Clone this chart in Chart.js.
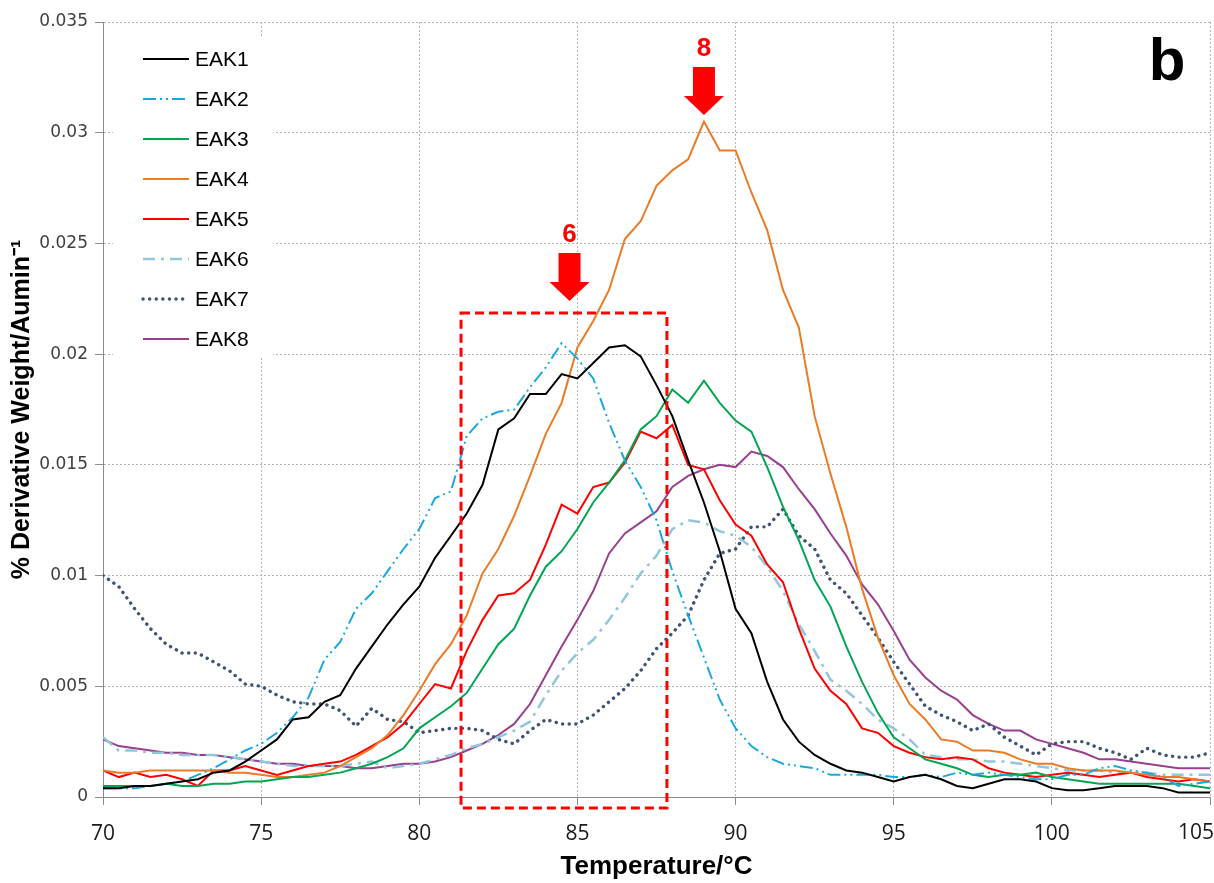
<!DOCTYPE html>
<html>
<head>
<meta charset="utf-8">
<script src="https://cdn.jsdelivr.net/npm/chart.js@4.4.0/dist/chart.umd.min.js"></script>
<style>
  html, body { margin: 0; padding: 0; background: #fff; }
  #chart { display: block; }
</style>
</head>
<body>
<canvas id="chart" width="1214" height="883"></canvas>
<script>
// Temperatures (°C)
const temps = [70, 70.5, 71, 71.5, 72, 72.5, 73, 73.5, 74, 74.5, 75, 75.5, 76, 76.5, 77, 77.5,
    78, 78.5, 79, 79.5, 80, 80.5, 81, 81.5, 82, 82.5, 83, 83.5, 84, 84.5, 85, 85.5, 86, 86.5,
    87, 87.5, 88, 88.5, 89, 89.5, 90, 90.5, 91, 91.5, 92, 92.5, 93, 93.5, 94, 94.5, 95, 95.5,
    96, 96.5, 97, 97.5, 98, 98.5, 99, 99.5, 100, 100.5, 101, 101.5, 102, 102.5, 103, 103.5,
    104, 104.5, 105];

const seriesNames = ['EAK1', 'EAK2', 'EAK3', 'EAK4', 'EAK5', 'EAK6', 'EAK7', 'EAK8'];

const eak1 = [0.0004, 0.0004, 0.0005, 0.0005, 0.0006, 0.0007, 0.0008, 0.0011, 0.0012, 0.0016,
    0.0021, 0.0026, 0.0035, 0.0036, 0.0043, 0.0046, 0.0058, 0.0068, 0.0078, 0.0087,
    0.0095, 0.0108, 0.0118, 0.0128, 0.0141, 0.0166, 0.0171, 0.0182, 0.0182, 0.0191,
    0.0189, 0.0196, 0.0203, 0.0204, 0.0199, 0.0186, 0.0172, 0.0152, 0.0133, 0.0111,
    0.0085, 0.0074, 0.0052, 0.0035, 0.0025, 0.0019, 0.0015, 0.0012, 0.0011, 0.0009,
    0.0007, 0.0009, 0.001, 0.0008, 0.0005, 0.0004, 0.0006, 0.0008, 0.0008, 0.0007,
    0.0004, 0.0003, 0.0003, 0.0004, 0.0005, 0.0005, 0.0005, 0.0004, 0.0002, 0.0002, 0.0002];

const eak2 = [0.0004, 0.0004, 0.0004, 0.0005, 0.0006, 0.0007, 0.001, 0.0013, 0.0017, 0.0021,
    0.0024, 0.0029, 0.0036, 0.0045, 0.0062, 0.007, 0.0085, 0.0092, 0.0102, 0.0112,
    0.0121, 0.0135, 0.0138, 0.0163, 0.0171, 0.0174, 0.0175, 0.0185, 0.0194, 0.0205,
    0.0198, 0.0189, 0.0169, 0.0152, 0.014, 0.0125, 0.0102, 0.0082, 0.0063, 0.0044,
    0.0031, 0.0023, 0.0018, 0.0015, 0.0014, 0.0013, 0.001, 0.001, 0.001, 0.001,
    0.0009, 0.0009, 0.001, 0.0009, 0.0011, 0.001, 0.0011, 0.001, 0.0009, 0.0008,
    0.0008, 0.001, 0.001, 0.0013, 0.0014, 0.0012, 0.0011, 0.0009, 0.0005, 0.0006, 0.0007];

const eak3 = [0.0005, 0.0005, 0.0005, 0.0005, 0.0006, 0.0005, 0.0005, 0.0006, 0.0006, 0.0007,
    0.0007, 0.0008, 0.0009, 0.0009, 0.001, 0.0011, 0.0013, 0.0015, 0.0018, 0.0022,
    0.0031, 0.0036, 0.0041, 0.0047, 0.0058, 0.0069, 0.0076, 0.0091, 0.0104, 0.0111,
    0.0121, 0.0133, 0.0142, 0.0152, 0.0166, 0.0172, 0.0184, 0.0178, 0.0188, 0.0178,
    0.017, 0.0165, 0.0149, 0.0131, 0.0116, 0.0098, 0.0086, 0.0068, 0.0052, 0.0038,
    0.0027, 0.0022, 0.0017, 0.0015, 0.0013, 0.001, 0.0009, 0.001, 0.001, 0.0011,
    0.0009, 0.0008, 0.0007, 0.0006, 0.0006, 0.0006, 0.0006, 0.0006, 0.0006, 0.0005, 0.0004];

const eak4 = [0.0012, 0.0011, 0.0011, 0.0012, 0.0012, 0.0012, 0.0012, 0.0012, 0.0011, 0.0011,
    0.001, 0.0009, 0.0009, 0.001, 0.0011, 0.0014, 0.0018, 0.0022, 0.0028, 0.0037,
    0.0048, 0.006, 0.0069, 0.0082, 0.0101, 0.0112, 0.0127, 0.0145, 0.0164, 0.0178,
    0.0203, 0.0215, 0.0229, 0.0252, 0.026, 0.0276, 0.0283, 0.0288, 0.0305, 0.0292,
    0.0292, 0.0273, 0.0256, 0.0229, 0.0212, 0.0172, 0.0146, 0.0122, 0.0094, 0.0072,
    0.0055, 0.0042, 0.0035, 0.0026, 0.0025, 0.0021, 0.0021, 0.002, 0.0017, 0.0015,
    0.0015, 0.0013, 0.0012, 0.0012, 0.0012, 0.0011, 0.001, 0.0009, 0.0009, 0.0008, 0.0007];

const eak5 = [0.0012, 0.0009, 0.0011, 0.0009, 0.001, 0.0008, 0.0005, 0.0012, 0.0012, 0.0014,
    0.0012, 0.001, 0.0012, 0.0014, 0.0015, 0.0016, 0.0019, 0.0023, 0.0027, 0.0033,
    0.0042, 0.0051, 0.0049, 0.0066, 0.008, 0.0091, 0.0092, 0.0098, 0.0114, 0.0132,
    0.0128, 0.014, 0.0142, 0.0151, 0.0165, 0.0162, 0.0168, 0.015, 0.0148, 0.0134,
    0.0123, 0.0118, 0.0105, 0.0097, 0.0076, 0.0058, 0.0048, 0.0042, 0.0031, 0.0029,
    0.0023, 0.002, 0.0018, 0.0017, 0.0018, 0.0017, 0.0013, 0.0011, 0.001, 0.0009,
    0.001, 0.0011, 0.001, 0.0009, 0.001, 0.0011, 0.0009, 0.0008, 0.0007, 0.0008, 0.0007];

const eak6 = [0.0027, 0.0021, 0.0021, 0.002, 0.002, 0.0019, 0.0019, 0.0019, 0.0018, 0.0017,
    0.0016, 0.0015, 0.0014, 0.0014, 0.0014, 0.0014, 0.0015, 0.0016, 0.0013, 0.0014,
    0.0015, 0.0017, 0.0019, 0.0022, 0.0024, 0.0027, 0.003, 0.0034, 0.0046, 0.0057,
    0.0065, 0.0071, 0.008, 0.009, 0.0101, 0.0109, 0.0121, 0.0125, 0.0124, 0.012,
    0.0118, 0.0113, 0.0104, 0.0093, 0.0078, 0.0066, 0.0053, 0.0048, 0.0042, 0.0035,
    0.0031, 0.0026, 0.0019, 0.0018, 0.0017, 0.0017, 0.0016, 0.0016, 0.0015, 0.0014,
    0.0013, 0.0012, 0.0012, 0.0012, 0.0011, 0.0011, 0.0011, 0.001, 0.001, 0.001, 0.001];

const eak7 = [0.01, 0.0095, 0.0085, 0.0076, 0.0069, 0.0065, 0.0065, 0.0061, 0.0057, 0.0051,
    0.005, 0.0046, 0.0043, 0.0042, 0.0042, 0.0039, 0.0032, 0.004, 0.0035, 0.0034,
    0.0029, 0.003, 0.0031, 0.0031, 0.003, 0.0026, 0.0024, 0.003, 0.0035, 0.0033,
    0.0033, 0.0037, 0.0043, 0.0049, 0.0057, 0.0067, 0.0074, 0.0082, 0.0098, 0.011,
    0.0112, 0.0122, 0.0122, 0.013, 0.0118, 0.0112, 0.0098, 0.0092, 0.0082, 0.0072,
    0.0061, 0.0051, 0.0041, 0.0037, 0.0034, 0.003, 0.0033, 0.0027, 0.0023, 0.0019,
    0.0024, 0.0025, 0.0025, 0.0022, 0.002, 0.0017, 0.0022, 0.0019, 0.0018, 0.0018, 0.002];

const eak8 = [0.0026, 0.0023, 0.0022, 0.0021, 0.002, 0.002, 0.0019, 0.0019, 0.0018, 0.0017,
    0.0016, 0.0015, 0.0015, 0.0014, 0.0014, 0.0014, 0.0013, 0.0013, 0.0014, 0.0015,
    0.0015, 0.0016, 0.0018, 0.0021, 0.0024, 0.0028, 0.0033, 0.0042, 0.0055, 0.0068,
    0.008, 0.0093, 0.011, 0.0119, 0.0124, 0.0129, 0.014, 0.0145, 0.0148, 0.015,
    0.0149, 0.0156, 0.0154, 0.0149, 0.0139, 0.013, 0.0119, 0.0109, 0.0096, 0.0087,
    0.0075, 0.0062, 0.0054, 0.0048, 0.0044, 0.0037, 0.0033, 0.003, 0.003, 0.0026,
    0.0024, 0.0022, 0.002, 0.0017, 0.0017, 0.0016, 0.0015, 0.0014, 0.0013, 0.0013, 0.0013];

// Axis ticks
const xTickValues = [70, 75, 80, 85, 90, 95, 100, 105];
const xTickLabels = ['70', '75', '80', '85', '90', '95', '100', '105'];
const yTickValues = [0, 0.005, 0.01, 0.015, 0.02, 0.025, 0.03, 0.035];
const yTickLabels = ['0', '0.005', '0.01', '0.015', '0.02', '0.025', '0.03', '0.035'];

// Highlighted region and peak markers
const boxRange = { x0: 81.32, x1: 87.83, yTop: 0.02186 };
const peakMarks = [
    { label: '6', x: 84.75, y: 0.0224 },
    { label: '8', x: 89.0, y: 0.0308 }
];

const allSeries = [eak1, eak2, eak3, eak4, eak5, eak6, eak7, eak8];
const colors = ['#000000', '#1BA8DF', '#00A651', '#EB7B25', '#FF0000', '#93C6DA', '#3F5375', '#993F8E'];
const dashes = [[], [13, 4, 2, 4, 2, 4], [], [], [], [12, 6, 3, 6], [0.1, 6.5], []];
const widths = [2, 2, 2, 2, 2, 2.5, 3.4, 2];

const tickFont = '21px "Open Sans", sans-serif';

const datasets = allSeries.map((vals, i) => ({
    label: seriesNames[i],
    data: vals.map((v, j) => ({ x: temps[j], y: v })),
    borderColor: colors[i],
    backgroundColor: colors[i],
    borderWidth: widths[i],
    borderDash: dashes[i],
    borderCapStyle: i === 6 ? 'round' : 'butt',
    pointRadius: 0,
    tension: 0,
    fill: false
}));

const overlayPlugin = {
    id: 'overlay',
    afterDatasetsDraw(chart) {
        const ctx = chart.ctx;
        const xs = chart.scales.x;
        const ys = chart.scales.y;
        const area = chart.chartArea;

        // dashed red box
        const bx0 = xs.getPixelForValue(boxRange.x0);
        const bx1 = xs.getPixelForValue(boxRange.x1);
        const by0 = ys.getPixelForValue(boxRange.yTop);
        const by1 = ys.getPixelForValue(0) + 11;
        ctx.save();
        ctx.strokeStyle = '#FF0000';
        ctx.lineWidth = 3;
        ctx.setLineDash([9, 5]);
        ctx.strokeRect(bx0, by0, bx1 - bx0, by1 - by0);
        ctx.restore();

        // red arrows with labels
        peakMarks.forEach(m => {
            const cx = xs.getPixelForValue(m.x);
            const tip = ys.getPixelForValue(m.y);
            ctx.save();
            ctx.fillStyle = '#FF0000';
            ctx.beginPath();
            ctx.moveTo(cx - 11, tip - 48);
            ctx.lineTo(cx + 11, tip - 48);
            ctx.lineTo(cx + 11, tip - 19);
            ctx.lineTo(cx + 20, tip - 19);
            ctx.lineTo(cx, tip);
            ctx.lineTo(cx - 20, tip - 19);
            ctx.lineTo(cx - 11, tip - 19);
            ctx.closePath();
            ctx.fill();
            ctx.font = 'bold 26px "Liberation Sans", Arial, sans-serif';
            ctx.textAlign = 'center';
            ctx.textBaseline = 'middle';
            ctx.fillText(m.label, cx, tip - 66);
            ctx.restore();
        });

        // legend inside the plot
        const lx = area.left + 10;
        const ly = area.top + 16;
        ctx.save();
        ctx.fillStyle = '#ffffff';
        ctx.fillRect(lx, ly, 160, 319);
        chart.data.datasets.forEach((ds, i) => {
            const rowY = ly + 21 + i * 40;
            ctx.save();
            ctx.strokeStyle = ds.borderColor;
            ctx.lineWidth = ds.borderWidth;
            ctx.lineCap = ds.borderCapStyle;
            ctx.setLineDash(ds.borderDash);
            ctx.beginPath();
            ctx.moveTo(lx + 30, rowY);
            ctx.lineTo(lx + 76, rowY);
            ctx.stroke();
            ctx.restore();
            ctx.fillStyle = '#000000';
            ctx.font = '21px "Liberation Sans", Arial, sans-serif';
            ctx.textAlign = 'left';
            ctx.textBaseline = 'middle';
            ctx.fillText(ds.label, lx + 82, rowY + 1);
        });
        ctx.restore();

        // panel letter
        ctx.save();
        ctx.fillStyle = '#000000';
        ctx.font = 'bold 60px "Liberation Sans", Arial, sans-serif';
        ctx.textAlign = 'center';
        ctx.textBaseline = 'alphabetic';
        ctx.fillText('b', area.right - 43, area.top + 58);
        ctx.restore();
    },
    afterDraw(chart) {
        // last x tick label is pulled inside the canvas, as in the original
        const ctx = chart.ctx;
        const xs = chart.scales.x;
        const last = xTickValues.length - 1;
        ctx.save();
        ctx.fillStyle = '#1a1a1a';
        ctx.font = tickFont;
        ctx.textAlign = 'right';
        ctx.textBaseline = 'middle';
        ctx.fillText(xTickLabels[last], xs.getPixelForValue(xTickValues[last]) + 4, xs.top + 36);
        ctx.restore();
    }
};

new Chart(document.getElementById('chart'), {
    type: 'line',
    data: { datasets: datasets },
    options: {
        responsive: false,
        animation: false,
        layout: { padding: { left: 0, top: 22, right: 4, bottom: 0 } },
        plugins: {
            legend: { display: false },
            tooltip: { enabled: false }
        },
        scales: {
            x: {
                type: 'linear',
                min: 70,
                max: 105,
                afterBuildTicks: (scale) => { scale.ticks = xTickValues.map(v => ({ value: v })); },
                afterFit: (scale) => { scale.height = 86; scale.paddingLeft = 0; scale.paddingRight = 0; },
                grid: { color: '#b4b4b4', lineWidth: 1, tickLength: 8, tickColor: '#8c8c8c' },
                border: { display: true, color: '#8c8c8c', width: 1, dash: [2, 2] },
                ticks: {
                    color: '#1a1a1a',
                    padding: 16,
                    maxRotation: 0,
                    font: { family: '"Open Sans", sans-serif', size: 21 },
                    callback: (v, i) => (i === xTickValues.length - 1 ? '' : xTickLabels[i])
                },
                title: {
                    display: true,
                    text: 'Temperature/°C',
                    color: '#000',
                    font: { family: '"Liberation Sans", Arial, sans-serif', size: 26, weight: 'bold' },
                    padding: { top: 0, bottom: 1 }
                }
            },
            y: {
                min: 0,
                max: 0.035,
                afterBuildTicks: (scale) => { scale.ticks = yTickValues.map(v => ({ value: v })); },
                afterFit: (scale) => { scale.width = 103; scale.paddingTop = 0; scale.paddingBottom = 0; },
                grid: { color: '#b4b4b4', lineWidth: 1, tickLength: 8, tickColor: '#8c8c8c' },
                border: { display: true, color: '#8c8c8c', width: 1, dash: [2, 2] },
                ticks: {
                    color: '#404040',
                    padding: 7,
                    font: { family: '"DejaVu Sans", sans-serif', size: 17 },
                    callback: (v, i) => yTickLabels[i]
                },
                title: {
                    display: true,
                    text: '% Derivative Weight/Aumin⁻¹',
                    color: '#000',
                    font: { family: '"Liberation Sans", Arial, sans-serif', size: 25, weight: 'bold' },
                    padding: { top: 7, bottom: 0 }
                }
            }
        }
    },
    plugins: [overlayPlugin]
});
</script>
</body>
</html>
